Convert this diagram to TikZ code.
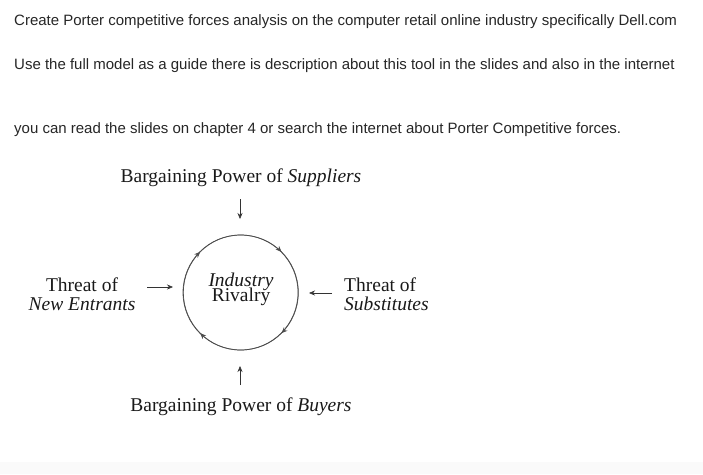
\documentclass[tikz,border=0pt]{standalone}
\usepackage{fontspec}
\setmainfont{Liberation Serif}
\newfontfamily\arial{Liberation Sans}
\usetikzlibrary{decorations.markings,arrows.meta}
\begin{document}
\begin{tikzpicture}[x=1pt,y=-1pt,
  hdr/.style={anchor=base west,font=\arial\fontsize{15}{16}\selectfont,text=black!85,inner sep=0},
  lbl/.style={font=\fontsize{19.5}{19}\selectfont,inner sep=0,text=black!90},
  arr/.style={-{Stealth[length=6pt,width=5pt]},line width=0.6pt,black!80}]
\useasboundingbox (0,0) rectangle (703,474);
\fill[black!2] (0,462) rectangle (703,474);
\node[hdr] (h1) at (14,25) {Create Porter competitive forces analysis on the computer retail online industry specifically Dell.com};
\node[hdr] (h2) at (14,69) {Use the full model as a guide there is description about this tool in the slides and also in the internet};
\node[hdr] (h3) at (14,133) {you can read the slides on chapter 4 or search the internet about Porter Competitive forces.};
\node[lbl] (sup) at (241,178) {Bargaining Power of \textit{Suppliers}};
\node[lbl] (buy) at (241,407) {Bargaining Power of \textit{Buyers}};
\node[lbl,align=center] (ent) at (82,294) {Threat of\\\textit{New Entrants}};
\node[lbl,align=left,anchor=west] (sub) at (344,294) {Threat of\\\textit{Substitutes}};
\node[lbl,align=center] (riv) at (241,289) {\textit{Industry}\\[-4pt]Rivalry};
\node[draw=black!70,line width=0.7pt,circle,minimum size=115pt] (c) at (240.5,292.5) {};
\draw[black!70,line width=0.7pt,postaction={decorate},decoration={markings,
  mark=at position 0.125 with {\arrow{Stealth[length=6pt,width=5pt]}},
  mark=at position 0.375 with {\arrow{Stealth[length=6pt,width=5pt]}},
  mark=at position 0.625 with {\arrow{Stealth[length=6pt,width=5pt]}},
  mark=at position 0.875 with {\arrow{Stealth[length=6pt,width=5pt]}}}]
  (c.east) arc[start angle=0,end angle=-360,radius=57.5pt];
\coordinate (a1) at (240,199); \coordinate (a2) at (240,219);
\draw[arr] (a1) -- (a2);
\coordinate (b1) at (240,385); \coordinate (b2) at (240,366);
\draw[arr] (b1) -- (b2);
\coordinate (e1) at (147,287); \coordinate (e2) at (173,287);
\draw[arr] (e1) -- (e2);
\coordinate (s1) at (332,293); \coordinate (s2) at (309,293);
\draw[arr] (s1) -- (s2);
\end{tikzpicture}
\end{document}
